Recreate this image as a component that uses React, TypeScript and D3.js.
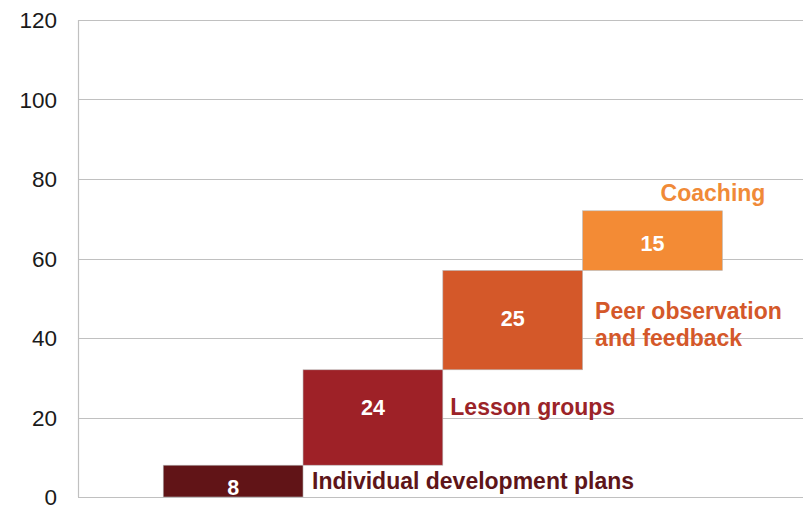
import React from "react";
import * as d3 from "d3";

const categories = ["Individual development plans", "Lesson groups", "Peer observation and feedback", "Coaching"];
const labelLines = [["Individual development plans"], ["Lesson groups"], ["Peer observation", "and feedback"], ["Coaching"]];
const values = [8, 24, 25, 15];
const yTicks = [0, 20, 40, 60, 80, 100, 120];
const colors = ["#611417", "#9E2127", "#D45829", "#F38B35"];
const textColors = ["#5E1519", "#9B2328", "#D4582A", "#F08A38"];

const W = 803;
const H = 505;
const M = { left: 78, right: 0, top: 20, bottom: 8 };

// layout nudges (px) to match reference typesetting
const valueNudge = [6, -10.5, -1.5, 3];
const labelNudgeY = [0, -11, 4.5, 0];
const labelNudgeX = [9, 7.5, 12.5, 78];

export default function App() {
  const y = d3.scaleLinear().domain([0, 120]).range([H - M.bottom, M.top]);
  const x = d3
    .scaleBand<string>()
    .domain(categories)
    .range([M.left, W - M.right])
    .paddingInner(0)
    .paddingOuter(0.593)
    .align(0.514);
  const bw = x.bandwidth();

  let cum = 0;
  const bars = values.map((v, i) => {
    const start = cum;
    cum += v;
    return { cat: categories[i], v, start, end: cum, i };
  });

  const font = "'Liberation Sans', Arial, Helvetica, sans-serif";

  return (
    <div style={{ position: "absolute", left: 0, top: 0 }}>
      <svg width={W} height={H} style={{ display: "block", background: "#fff" }}>
        {yTicks.map((t) => (
          <g key={t}>
            <line x1={M.left} x2={W - M.right} y1={Math.round(y(t)) + 0.5} y2={Math.round(y(t)) + 0.5} stroke="#c0c0c0" strokeWidth={1.2} />
            <text x={57} y={y(t) + 8.2} textAnchor="end" fontFamily={font} fontSize={22.5} fill="#1a1a1a">
              {t}
            </text>
          </g>
        ))}
        <line x1={M.left + 0.5} x2={M.left + 0.5} y1={M.top} y2={H - M.bottom} stroke="#c0c0c0" strokeWidth={1.2} />
        {bars.map((b) => (
          <rect
            key={b.cat}
            x={x(b.cat)!}
            width={bw}
            y={y(b.end)}
            height={y(b.start) - y(b.end)}
            fill={colors[b.i]}
            stroke="#b8b8b8"
            strokeWidth={0.6}
          />
        ))}
        {bars.map((b) => (
          <text
            key={"v" + b.cat}
            x={x(b.cat)! + bw / 2}
            y={(y(b.start) + y(b.end)) / 2 + valueNudge[b.i] + 7.6}
            textAnchor="middle"
            fontFamily={font}
            fontWeight="bold"
            fontSize={21.5}
            fill="#fff"
          >
            {b.v}
          </text>
        ))}
        {bars.map((b) => {
          const lines = labelLines[b.i];
          const isLast = b.i === bars.length - 1;
          const lx = x(b.cat)! + (isLast ? labelNudgeX[b.i] : bw + labelNudgeX[b.i]);
          const baseY = isLast
            ? y(b.end) - 9.5
            : (y(b.start) + y(b.end)) / 2 + labelNudgeY[b.i] + 8;
          const lh = 27;
          return (
            <text key={"l" + b.cat} fontFamily={font} fontWeight="bold" fontSize={23} fill={textColors[b.i]}>
              {lines.map((ln, k) => (
                <tspan key={k} x={lx} y={baseY + (k - (lines.length - 1) / 2) * lh}>
                  {ln}
                </tspan>
              ))}
            </text>
          );
        })}
      </svg>
    </div>
  );
}
